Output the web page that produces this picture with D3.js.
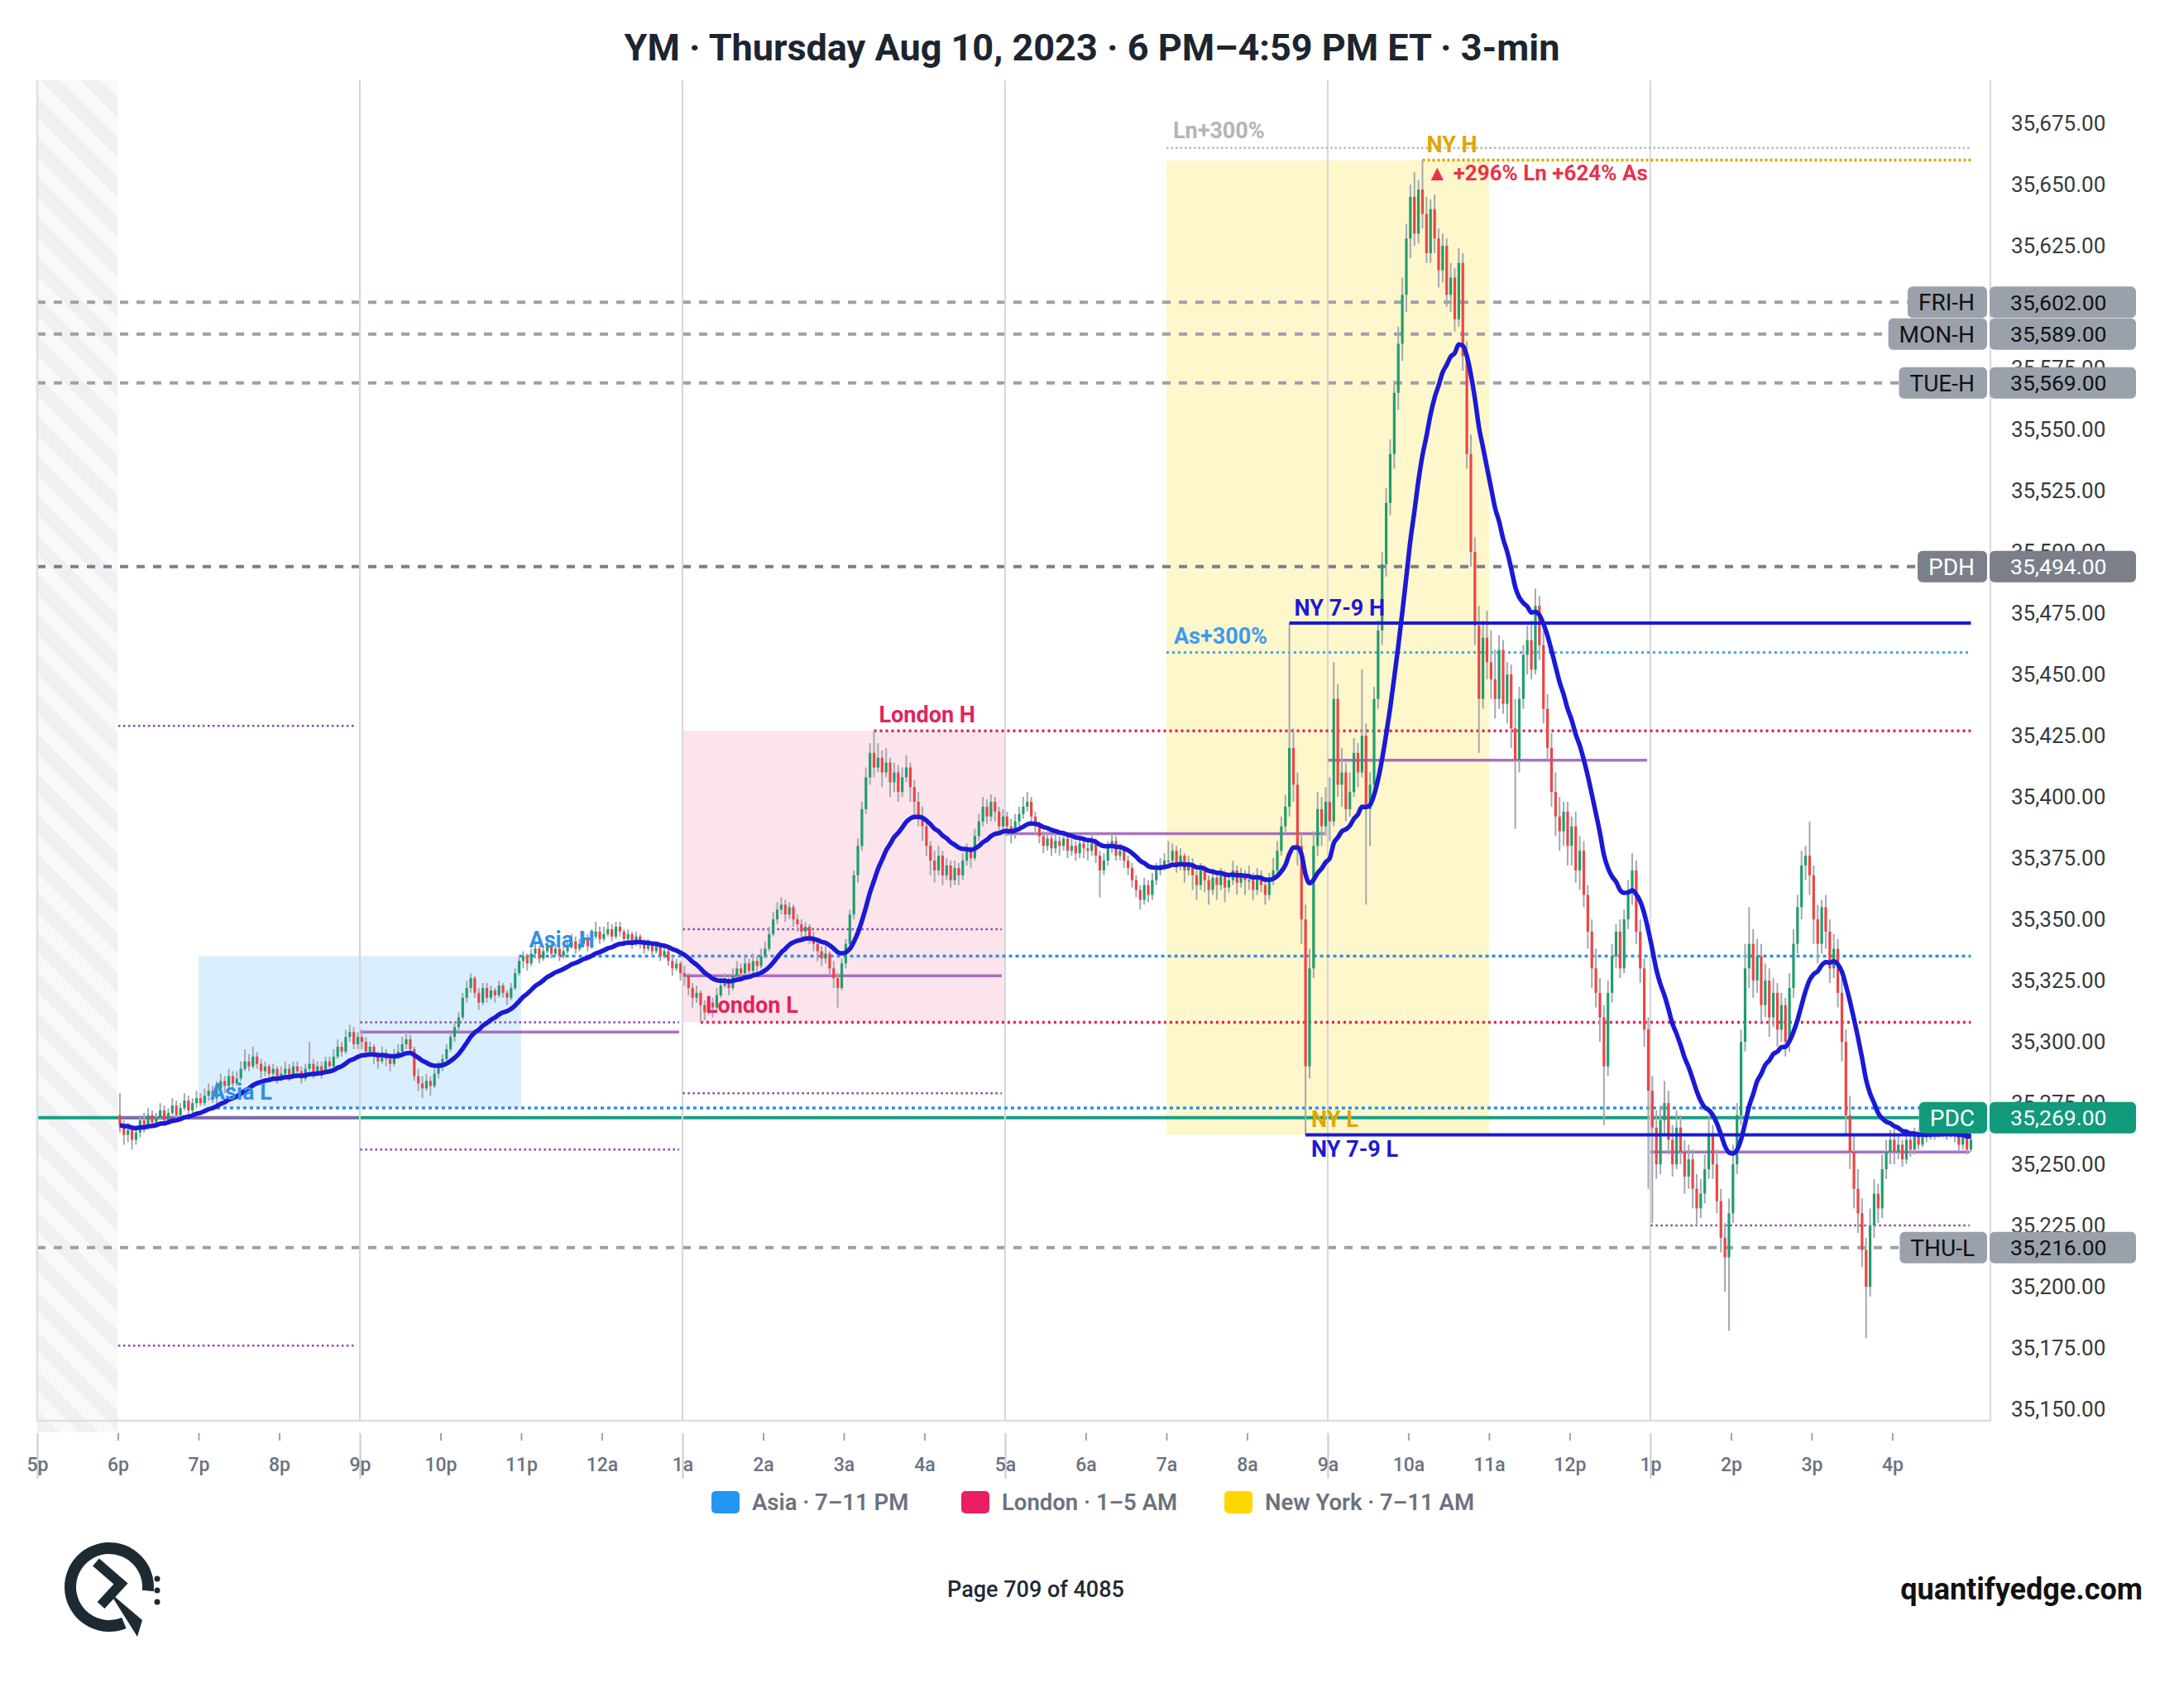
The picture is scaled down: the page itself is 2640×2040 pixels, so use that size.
<!DOCTYPE html>
<html>
<head>
<meta charset="utf-8">
<script src="https://cdn.jsdelivr.net/npm/d3@7"></script>
<style>
  body { margin: 0; background: #fff; }
  svg text { font-family: Roboto, "Noto Sans", sans-serif; }
</style>
</head>
<body>
<svg id="chart" width="2640" height="2040"></svg>
<script>
// ---- data ----
const firstBar = new Date(2023, 7, 9, 18, 0);   // 6 PM ET, 3-min bars
const barMinutes = 3;

// [open, high, low, close], one row per 3-min bar
const bars = [
  // 6p
  [35270,35279,35263,35266],[35266,35268,35258,35262],[35262,35267,35259,35264],[35264,35266,35256,35260],
  [35260,35265,35258,35263],[35263,35270,35261,35268],[35268,35271,35263,35265],[35265,35273,35264,35270],
  [35270,35272,35265,35267],[35267,35271,35265,35269],[35269,35275,35268,35272],[35272,35274,35266,35268],
  [35268,35273,35267,35271],[35271,35277,35270,35274],[35274,35276,35268,35270],[35270,35275,35269,35273],
  [35273,35279,35272,35276],[35276,35278,35270,35272],[35272,35277,35271,35275],[35275,35280,35273,35277],
  // 7p
  [35277,35279,35274,35275],[35275,35281,35274,35278],[35278,35283,35276,35280],[35280,35282,35275,35277],
  [35277,35284,35273,35281],[35281,35287,35280,35284],[35284,35286,35279,35282],[35282,35289,35281,35286],
  [35286,35288,35281,35283],[35283,35288,35282,35285],[35285,35292,35284,35289],[35289,35297,35288,35292],
  [35292,35295,35288,35290],[35290,35298,35289,35294],[35294,35296,35289,35291],[35291,35293,35285,35288],
  [35288,35292,35286,35290],[35290,35291,35284,35287],[35287,35291,35285,35289],[35289,35290,35283,35286],
  // 8p
  [35286,35290,35284,35287],[35287,35292,35285,35289],[35289,35291,35284,35286],[35286,35292,35285,35290],
  [35290,35292,35286,35288],[35288,35290,35283,35285],[35285,35291,35284,35289],[35289,35300,35288,35291],
  [35291,35293,35285,35287],[35287,35292,35286,35290],[35290,35292,35285,35288],[35288,35294,35287,35292],
  [35292,35294,35288,35290],[35290,35297,35289,35294],[35294,35301,35293,35298],[35298,35300,35294,35296],
  [35296,35305,35295,35302],[35302,35307,35300,35304],[35304,35306,35297,35299],[35299,35304,35297,35302],
  // 9p
  [35302,35305,35297,35300],[35300,35302,35294,35296],[35296,35300,35295,35298],[35298,35299,35291,35294],
  [35294,35296,35289,35292],[35292,35298,35291,35295],[35295,35297,35290,35293],[35293,35295,35288,35291],
  [35291,35297,35290,35294],[35294,35299,35293,35296],[35296,35302,35295,35299],[35299,35304,35297,35301],
  [35301,35303,35295,35297],[35297,35298,35284,35286],[35286,35289,35280,35283],[35283,35286,35277,35281],
  [35281,35287,35280,35284],[35284,35286,35278,35282],[35282,35289,35281,35287],[35287,35292,35285,35290],
  // 10p
  [35290,35295,35288,35293],[35293,35299,35292,35297],[35297,35304,35296,35302],[35302,35308,35300,35306],
  [35306,35312,35304,35310],[35310,35320,35309,35318],[35318,35325,35316,35322],[35322,35328,35320,35326],
  [35326,35327,35318,35320],[35320,35322,35313,35316],[35316,35324,35315,35322],[35322,35324,35316,35318],
  [35318,35323,35317,35321],[35321,35322,35316,35319],[35319,35325,35318,35323],[35323,35324,35318,35320],
  [35320,35321,35315,35318],[35318,35324,35317,35322],[35322,35330,35321,35328],[35328,35335,35327,35333],
  // 11p
  [35333,35337,35330,35335],[35335,35336,35329,35332],[35332,35338,35331,35336],[35336,35340,35334,35338],
  [35338,35339,35332,35334],[35334,35339,35333,35337],[35337,35342,35336,35339],[35339,35341,35334,35336],
  [35336,35340,35335,35338],[35338,35339,35333,35335],[35335,35339,35334,35337],[35337,35341,35336,35339],
  [35339,35344,35338,35341],[35341,35343,35336,35338],[35338,35342,35337,35340],[35340,35345,35339,35342],
  [35342,35344,35337,35339],[35339,35346,35338,35343],[35343,35349,35342,35345],[35345,35347,35340,35342],
  // 12a
  [35342,35347,35341,35344],[35344,35349,35343,35346],[35346,35348,35341,35343],[35343,35349,35342,35347],
  [35347,35349,35343,35345],[35345,35346,35340,35342],[35342,35346,35341,35344],[35344,35345,35338,35340],
  [35340,35345,35339,35343],[35343,35344,35338,35341],[35341,35342,35336,35338],[35338,35342,35337,35340],
  [35340,35341,35335,35337],[35337,35341,35336,35339],[35339,35340,35333,35335],[35335,35339,35334,35337],
  [35337,35338,35331,35333],[35333,35335,35327,35330],[35330,35334,35329,35332],[35332,35333,35325,35328],
  // 1a
  [35328,35331,35323,35327],[35327,35328,35319,35322],[35322,35324,35314,35318],[35318,35323,35316,35320],
  [35320,35321,35308,35315],[35315,35317,35309,35312],[35312,35319,35311,35316],[35316,35318,35310,35314],
  [35314,35322,35313,35319],[35319,35326,35318,35323],[35323,35328,35322,35325],[35325,35327,35319,35322],
  [35322,35330,35321,35327],[35327,35333,35326,35330],[35330,35332,35325,35328],[35328,35335,35327,35332],
  [35332,35334,35327,35329],[35329,35336,35328,35333],[35333,35335,35328,35331],[35331,35338,35330,35335],
  // 2a
  [35335,35341,35334,35338],[35338,35347,35337,35344],[35344,35353,35343,35350],[35350,35357,35348,35354],
  [35354,35359,35352,35356],[35356,35358,35349,35352],[35352,35357,35350,35355],[35355,35356,35347,35350],
  [35350,35352,35345,35348],[35348,35350,35342,35345],[35345,35349,35343,35347],[35347,35348,35340,35343],
  [35343,35345,35337,35340],[35340,35342,35333,35337],[35337,35339,35331,35334],[35334,35339,35332,35336],
  [35336,35337,35327,35330],[35330,35333,35322,35326],[35326,35328,35314,35322],[35322,35334,35321,35332],
  // 3a
  [35332,35342,35330,35340],[35340,35354,35338,35352],[35352,35370,35350,35368],[35368,35383,35365,35380],
  [35380,35398,35378,35395],[35395,35412,35393,35408],[35408,35422,35405,35418],[35418,35427,35408,35412],
  [35412,35422,35410,35416],[35416,35419,35404,35410],[35410,35420,35408,35414],[35414,35416,35400,35406],
  [35406,35414,35402,35410],[35410,35413,35398,35402],[35402,35412,35400,35408],[35408,35417,35406,35412],
  [35412,35414,35398,35404],[35404,35407,35392,35398],[35398,35402,35388,35392],[35392,35396,35382,35388],
  // 4a
  [35388,35390,35376,35380],[35380,35382,35368,35374],[35374,35378,35365,35370],[35370,35380,35368,35376],
  [35376,35378,35364,35368],[35368,35375,35366,35372],[35372,35374,35363,35366],[35366,35374,35364,35371],
  [35371,35373,35364,35368],[35368,35377,35366,35374],[35374,35381,35372,35378],[35378,35380,35371,35375],
  [35375,35387,35374,35384],[35384,35393,35382,35390],[35390,35400,35388,35396],[35396,35399,35389,35392],
  [35392,35401,35390,35398],[35398,35400,35390,35394],[35394,35396,35385,35388],[35388,35395,35386,35392],
  // 5a
  [35392,35394,35384,35388],[35388,35391,35381,35385],[35385,35393,35383,35390],[35390,35396,35388,35393],
  [35393,35400,35391,35396],[35396,35402,35394,35398],[35398,35400,35389,35392],[35392,35394,35385,35388],
  [35388,35390,35381,35384],[35384,35386,35377,35380],[35380,35386,35378,35383],[35383,35385,35376,35379],
  [35379,35385,35377,35382],[35382,35384,35376,35380],[35380,35386,35378,35383],[35383,35384,35375,35378],
  [35378,35383,35376,35380],[35380,35382,35374,35377],[35377,35384,35375,35381],[35381,35383,35375,35379],
  // 6a
  [35379,35383,35374,35378],[35378,35385,35376,35381],[35381,35383,35373,35376],[35376,35378,35359,35370],
  [35370,35377,35368,35374],[35374,35382,35372,35379],[35379,35385,35377,35382],[35382,35384,35374,35376],
  [35376,35381,35374,35378],[35378,35380,35371,35374],[35374,35376,35368,35371],[35371,35373,35363,35366],
  [35366,35368,35359,35362],[35362,35364,35354,35358],[35358,35367,35356,35364],[35364,35366,35357,35360],
  [35360,35369,35358,35366],[35366,35373,35364,35370],[35370,35375,35368,35372],[35372,35377,35370,35374],
  // 7a
  [35374,35382,35372,35374],[35374,35381,35372,35378],[35378,35380,35369,35372],[35372,35379,35370,35376],
  [35376,35377,35365,35370],[35370,35376,35368,35373],[35373,35375,35362,35368],[35368,35370,35358,35364],
  [35364,35373,35362,35370],[35370,35372,35361,35366],[35366,35368,35356,35362],[35362,35370,35360,35367],
  [35367,35369,35358,35364],[35364,35371,35362,35368],[35368,35370,35357,35363],[35363,35369,35361,35366],
  [35366,35374,35364,35370],[35370,35372,35360,35365],[35365,35371,35363,35368],[35368,35370,35360,35366],
  // 8a
  [35366,35372,35362,35366],[35366,35369,35358,35362],[35362,35371,35360,35368],[35368,35370,35361,35364],
  [35364,35367,35356,35360],[35360,35369,35358,35366],[35366,35375,35364,35370],[35370,35382,35368,35378],
  [35378,35392,35376,35388],[35388,35401,35385,35396],[35396,35471,35392,35420],[35420,35428,35398,35405],
  [35405,35410,35372,35380],[35380,35385,35340,35350],[35350,35356,35262,35290],[35290,35338,35285,35330],
  [35330,35386,35326,35380],[35380,35402,35376,35395],[35395,35400,35380,35388],[35388,35404,35384,35398],
  // 9a
  [35398,35408,35382,35390],[35390,35455,35388,35440],[35440,35446,35400,35405],[35405,35420,35396,35410],
  [35410,35414,35390,35395],[35395,35410,35392,35402],[35402,35424,35400,35418],[35418,35422,35404,35410],
  [35410,35452,35408,35425],[35425,35430,35356,35395],[35395,35410,35380,35405],[35405,35445,35402,35440],
  [35440,35472,35436,35468],[35468,35500,35462,35495],[35495,35526,35490,35520],[35520,35546,35515,35540],
  [35540,35570,35534,35565],[35565,35592,35558,35585],[35585,35612,35578,35605],[35605,35634,35598,35628],
  // 10a
  [35628,35650,35620,35645],[35645,35655,35625,35630],[35630,35652,35626,35648],[35648,35660,35632,35638],
  [35638,35645,35618,35622],[35622,35644,35618,35640],[35640,35646,35622,35628],[35628,35632,35608,35615],
  [35615,35630,35610,35625],[35625,35628,35600,35605],[35605,35618,35598,35612],[35612,35616,35590,35595],
  [35595,35624,35592,35618],[35618,35622,35574,35580],[35580,35586,35534,35540],[35540,35548,35494,35500],
  [35500,35506,35462,35470],[35470,35478,35418,35440],[35440,35472,35436,35465],[35465,35476,35448,35455],
  // 11a
  [35455,35468,35440,35448],[35448,35460,35432,35440],[35440,35466,35436,35460],[35460,35464,35434,35438],
  [35438,35455,35430,35450],[35450,35454,35420,35428],[35428,35440,35387,35415],[35415,35445,35410,35440],
  [35440,35462,35436,35458],[35458,35470,35450,35464],[35464,35472,35448,35452],[35452,35485,35450,35478],
  [35478,35482,35456,35462],[35462,35468,35430,35436],[35436,35442,35415,35420],[35420,35426,35396,35402],
  [35402,35410,35384,35392],[35392,35400,35378,35386],[35386,35398,35380,35394],[35394,35398,35372,35380],
  // 12p
  [35380,35392,35372,35388],[35388,35394,35365,35370],[35370,35384,35362,35378],[35378,35382,35355,35360],
  [35360,35364,35338,35345],[35345,35350,35322,35330],[35330,35338,35314,35320],[35320,35326,35300,35310],
  [35310,35315,35266,35290],[35290,35325,35286,35320],[35320,35340,35316,35335],[35335,35348,35330,35345],
  [35345,35350,35326,35330],[35330,35354,35328,35350],[35350,35366,35346,35362],[35362,35377,35356,35370],
  [35370,35374,35340,35345],[35345,35350,35324,35330],[35330,35334,35298,35305],[35305,35310,35240,35280],
  // 1p
  [35280,35286,35226,35265],[35265,35272,35244,35250],[35250,35274,35246,35268],[35268,35284,35262,35275],
  [35275,35280,35254,35260],[35260,35266,35245,35250],[35250,35272,35248,35265],[35265,35270,35250,35255],
  [35255,35260,35238,35245],[35245,35258,35240,35252],[35252,35256,35232,35240],[35240,35246,35225,35232],
  [35232,35244,35228,35238],[35238,35254,35234,35248],[35248,35270,35244,35262],[35262,35266,35244,35250],
  [35250,35256,35230,35235],[35235,35240,35214,35220],[35220,35226,35198,35212],[35212,35236,35182,35230],
  // 2p
  [35230,35258,35226,35250],[35250,35275,35246,35270],[35270,35305,35266,35300],[35300,35340,35296,35330],
  [35330,35355,35322,35340],[35340,35346,35318,35325],[35325,35342,35320,35335],[35335,35340,35308,35315],
  [35315,35332,35310,35325],[35325,35330,35302,35310],[35310,35326,35306,35320],[35320,35324,35298,35305],
  [35305,35320,35300,35315],[35315,35318,35294,35300],[35300,35328,35296,35322],[35322,35346,35318,35340],
  [35340,35360,35336,35355],[35355,35378,35350,35372],[35372,35380,35366,35376],[35376,35390,35360,35368],
  // 3p
  [35368,35372,35340,35350],[35350,35356,35332,35340],[35340,35358,35336,35355],[35355,35360,35338,35345],
  [35345,35350,35324,35330],[35330,35344,35326,35338],[35338,35342,35314,35320],[35320,35326,35292,35300],
  [35300,35305,35262,35270],[35270,35278,35248,35255],[35255,35262,35232,35240],[35240,35248,35222,35230],
  [35230,35236,35208,35215],[35215,35220,35179,35200],[35200,35232,35196,35225],[35225,35244,35220,35238],
  [35238,35242,35226,35232],[35232,35254,35228,35248],[35248,35260,35244,35255],[35255,35264,35250,35260],
  // 4p
  [35260,35266,35250,35255],[35255,35262,35252,35258],[35258,35260,35249,35252],[35252,35264,35250,35260],
  [35260,35262,35253,35256],[35256,35265,35254,35262],[35262,35264,35256,35258],[35258,35265,35257,35263],
  [35263,35265,35259,35261],[35261,35266,35260,35264],[35264,35266,35260,35262],[35262,35265,35261,35263],
  [35263,35266,35261,35264],[35264,35265,35260,35262],[35262,35265,35261,35263],[35263,35264,35259,35262],
  [35262,35263,35255,35258],[35258,35264,35256,35262],[35262,35263,35254,35256],[35256,35262,35255,35260]
];

// prior-day levels shown with badges on the price scale
const dayLevelNames = ['FRI-H', 'MON-H', 'TUE-H', 'PDH', 'THU-L'];
const dayLevelValues = [35602, 35589, 35569, 35494, 35216];
const pdcValue = 35269;

// sessions
const sessionNames = ['Asia', 'London', 'New York'];
const sessionLegend = ['Asia · 7–11 PM', 'London · 1–5 AM', 'New York · 7–11 AM'];
const sessionStart = [new Date(2023,7,9,19), new Date(2023,7,10,1), new Date(2023,7,10,7)];
const sessionEnd   = [new Date(2023,7,9,23), new Date(2023,7,10,5), new Date(2023,7,10,11)];
const sessionHigh = [35335, 35427, 35660];
const sessionLow  = [35273, 35308, 35262];
// bars where the session high / low printed (lines start there)
const highBarTime = [new Date(2023,7,9,22,57), new Date(2023,7,10,3,21), new Date(2023,7,10,10,9)];
const lowBarTime  = [new Date(2023,7,9,19,12), new Date(2023,7,10,1,12), new Date(2023,7,10,8,42)];

// NY 7-9 opening range
const ny79High = 35471, ny79Low = 35262;
const ny79HighTime = new Date(2023,7,10,8,30), ny79LowTime = new Date(2023,7,10,8,42);

// 4-hour block reference lines (purple)
const blockFrom = [new Date(2023,7,9,18), new Date(2023,7,9,21), new Date(2023,7,10,1), new Date(2023,7,10,5), new Date(2023,7,10,9), new Date(2023,7,10,13)];
const blockTo   = [new Date(2023,7,9,21), new Date(2023,7,10,1), new Date(2023,7,10,5), new Date(2023,7,10,9), new Date(2023,7,10,13), new Date(2023,7,10,17)];
const blockSolid = [35269, 35304, 35327, 35385, 35415, 35255];
const blockDotted = [[35429, 35176], [35308, 35256], [35346, 35279], [], [], [35225]];

const yTicks = d3.range(35150, 35676, 25);

// ---- layout ----
const W = 2640;
const plot = {left: 45, right: 2406, top: 97, bottom: 1717};

const svg = d3.select('#chart');

const x = d3.scaleTime()
    .domain([new Date(2023,7,9,17,0), new Date(2023,7,10,17,13)])
    .range([plot.left, plot.right]);
const y = d3.scaleLinear()
    .domain([35145.3, 35692.6])
    .range([plot.bottom, plot.top]);

const barTime = i => new Date(+firstBar + i * barMinutes * 60000);
const barX = i => x(new Date(+barTime(i) + 1.5 * 60000));
const lastX = barX(bars.length - 1);
const tx = t => x(new Date(+t + 1.5 * 60000));

const colors = {
  asia: '#2f8fe8', london: '#e0245e', ny: '#e2a500', nyBlue: '#1a1ad6',
  up: '#1f9e6e', down: '#ef4444', wick: '#a3a8b0', purple: '#9b59b6'
};
const boxFill = ['rgba(33,150,243,0.16)', 'rgba(233,30,99,0.12)', 'rgba(255,214,0,0.2)'];
const legendFill = ['#2196f3', '#e91e63', '#ffd600'];

// title
svg.append('text')
    .attr('x', W / 2).attr('y', 73)
    .attr('text-anchor', 'middle')
    .attr('font-size', 45).attr('font-weight', 700).attr('fill', '#1c2530')
    .text('YM · Thursday Aug 10, 2023 · 6 PM–4:59 PM ET · 3-min');

// hatched no-data zone 5p-6p
const defs = svg.append('defs');
const pat = defs.append('pattern').attr('id', 'hatch')
    .attr('patternUnits', 'userSpaceOnUse').attr('width', 34).attr('height', 34)
    .attr('patternTransform', 'rotate(-45)');
pat.append('rect').attr('width', 34).attr('height', 34).attr('fill', '#f9f9fa');
pat.append('rect').attr('width', 17).attr('height', 34).attr('fill', '#f0f0f2');
svg.append('rect')
    .attr('x', plot.left).attr('y', plot.top)
    .attr('width', x(firstBar) - plot.left).attr('height', plot.bottom + 14 - plot.top)
    .attr('fill', 'url(#hatch)');

// session boxes
sessionNames.forEach((s, i) => {
  svg.append('rect')
      .attr('x', x(sessionStart[i])).attr('y', y(sessionHigh[i]))
      .attr('width', x(sessionEnd[i]) - x(sessionStart[i]))
      .attr('height', y(sessionLow[i]) - y(sessionHigh[i]))
      .attr('fill', boxFill[i]);
});

// hourly ticks / 4h grid
const hours = d3.timeHour.range(new Date(2023,7,9,17), new Date(2023,7,10,17));
const hourFmt = d => (d.getHours() % 12 || 12) + (d.getHours() < 12 ? 'a' : 'p');
const isMajor = d => d.getHours() % 4 === 1;

svg.append('g').selectAll('line')
    .data(hours.filter(isMajor))
    .enter().append('line')
    .attr('x1', d => x(d)).attr('x2', d => x(d))
    .attr('y1', plot.top).attr('y2', plot.bottom)
    .attr('stroke', '#d6d6d9').attr('stroke-width', 2);

const xAxis = svg.append('g')
    .attr('transform', `translate(0,${plot.bottom + 15})`)
    .call(d3.axisBottom(x).tickValues(hours).tickFormat(hourFmt).tickSize(9).tickPadding(21));
xAxis.select('.domain').remove();
xAxis.selectAll('.tick line').attr('stroke', '#9ca3af').attr('stroke-width', 2)
    .filter(d => isMajor(d)).attr('y2', 55).attr('stroke', '#c8cbd0');
xAxis.selectAll('.tick text')
    .attr('font-size', 23).attr('font-weight', 500).attr('fill', '#6b7280')
    .attr('font-family', 'Roboto, sans-serif');

// plot border
svg.append('path')
    .attr('d', `M${plot.left},${plot.top}V${plot.bottom}H${plot.right}V${plot.top}`)
    .attr('fill', 'none').attr('stroke', '#dcdfe4').attr('stroke-width', 2.5);

// y tick labels (under the badges); drop the ones a badge covers completely
const badgeValues = dayLevelValues.concat([pdcValue]);
const yTickShown = yTicks.filter(v => badgeValues.every(b => Math.abs(y(v) - y(b)) > 10));
const yAxis = svg.append('g')
    .attr('transform', `translate(${plot.right},0)`)
    .call(d3.axisRight(y).tickValues(yTickShown).tickFormat(d3.format(',.2f')).tickSize(0).tickPadding(25));
yAxis.select('.domain').remove();
yAxis.selectAll('.tick text')
    .attr('font-size', 26).attr('fill', '#333a40').attr('font-family', 'Roboto, sans-serif');

// purple block lines
blockSolid.forEach((v, i) => {
  const x1 = tx(blockFrom[i]) - 2, x2 = x(blockTo[i]) - 4;
  svg.append('line').attr('x1', x1).attr('x2', x2).attr('y1', y(v)).attr('y2', y(v))
      .attr('stroke', colors.purple).attr('stroke-opacity', 0.85).attr('stroke-width', 3.5);
  blockDotted[i].forEach(dv => {
    svg.append('line').attr('x1', x1).attr('x2', x2).attr('y1', y(dv)).attr('y2', y(dv))
        .attr('stroke', '#8e44ad').attr('stroke-width', 2.5).attr('stroke-dasharray', '2.5,3.5');
  });
});

// session high/low lines
const hline = (v, x1, color, width, dash) =>
  svg.append('line').attr('x1', x1).attr('x2', lastX).attr('y1', y(v)).attr('y2', y(v))
      .attr('stroke', color).attr('stroke-width', width).attr('stroke-dasharray', dash);

hline(sessionHigh[0], tx(highBarTime[0]), colors.asia, 3.5, '4,4');
hline(sessionLow[0], tx(lowBarTime[0]), colors.asia, 3.5, '4,4');
hline(sessionHigh[1], tx(highBarTime[1]), colors.london, 3.5, '3,4');
hline(sessionLow[1], tx(lowBarTime[1]), colors.london, 3.5, '3,4');
hline(sessionHigh[2], tx(highBarTime[2]), colors.ny, 3.5, '3,3');

// range extensions (+300%)
const lnExt = sessionLow[1] + 3 * (sessionHigh[1] - sessionLow[1]);
const asExt = sessionLow[0] + 3 * (sessionHigh[0] - sessionLow[0]);
hline(lnExt, x(sessionStart[2]), '#b8b8bc', 2.5, '2.5,3');
hline(asExt, x(sessionStart[2]), '#42a5f5', 3, '3,4');

// candles
const cg = svg.append('g');
bars.forEach((b, i) => {
  const cx = barX(i);
  cg.append('line').attr('x1', cx).attr('x2', cx).attr('y1', y(b[1])).attr('y2', y(b[2]))
      .attr('stroke', colors.wick).attr('stroke-width', 2);
  const top = y(Math.max(b[0], b[3])), bot = y(Math.min(b[0], b[3]));
  cg.append('rect').attr('x', cx - 1.6).attr('y', top)
      .attr('width', 3.2).attr('height', Math.max(1.5, bot - top))
      .attr('fill', b[3] >= b[0] ? colors.up : colors.down);
});

// NY 7-9 range lines
hline(ny79High, tx(ny79HighTime), colors.nyBlue, 4, null);
hline(ny79Low, tx(ny79LowTime), colors.nyBlue, 4, null);

// moving average (EMA 20 of closes)
const alpha = 2 / 21;
const ema = [];
bars.forEach((b, i) => ema.push(i ? ema[i - 1] + alpha * (b[3] - ema[i - 1]) : b[3]));
svg.append('path')
    .datum(ema)
    .attr('d', d3.line().x((d, i) => barX(i)).y(d => y(d)).curve(d3.curveMonotoneX))
    .attr('fill', 'none').attr('stroke', colors.nyBlue).attr('stroke-width', 5.5)
    .attr('stroke-linejoin', 'round');

// labels
const label = (txt, x0, v, dy, color, size) =>
  svg.append('text').attr('x', x0).attr('y', y(v) + dy)
      .attr('font-size', size || 27).attr('font-weight', 700).attr('fill', color).text(txt);

label('Asia H', tx(highBarTime[0]) + 12, sessionHigh[0], -10, colors.asia);
label('Asia L', tx(lowBarTime[0]) - 8, sessionLow[0], -10, colors.asia);
label('London H', tx(highBarTime[1]) + 6, sessionHigh[1], -10, colors.london);
label('London L', tx(lowBarTime[1]) + 6, sessionLow[1], -11, colors.london);
label('Ln+300%', x(sessionStart[2]) + 8, lnExt, -12, '#b4b4b8');
label('NY H', tx(highBarTime[2]) + 5, sessionHigh[2], -9, colors.ny);
label('▲ +296% Ln +624% As', tx(highBarTime[2]) + 5, sessionHigh[2], 25, '#e8334a', 26);
label('As+300%', x(sessionStart[2]) + 9, asExt, -10, '#3d9be9');
label('NY 7-9 H', tx(ny79HighTime) + 6, ny79High, -9, colors.nyBlue);
label('NY L', tx(ny79LowTime) + 7, sessionLow[2], -10, colors.ny);
label('NY 7-9 L', tx(ny79LowTime) + 7, ny79Low, 26, colors.nyBlue);

// badges on the price scale
function badge(name, value, fill, textFill, lineColor, solid) {
  const cy = y(value);
  const g = svg.append('g');
  const t = g.append('text').attr('x', 2387).attr('y', cy).attr('dy', '0.36em')
      .attr('text-anchor', 'end').attr('font-size', 28).attr('fill', textFill).text(name);
  const left = 2387 - t.node().getComputedTextLength() - 13;
  g.insert('rect', 'text').attr('x', left).attr('y', cy - 19)
      .attr('width', plot.right - 4 - left).attr('height', 38).attr('rx', 6).attr('fill', fill);
  g.append('rect').attr('x', plot.right - 1).attr('y', cy - 19)
      .attr('width', 177).attr('height', 38).attr('rx', 6).attr('fill', fill);
  g.append('text').attr('x', 2430).attr('y', cy).attr('dy', '0.36em')
      .attr('font-size', 26.5).attr('fill', textFill).text(d3.format(',.2f')(value));
  svg.insert('line', 'g')
      .attr('x1', plot.left).attr('x2', left).attr('y1', cy).attr('y2', cy)
      .attr('stroke', lineColor).attr('stroke-width', 4)
      .attr('stroke-dasharray', solid ? null : '10,10');
}

dayLevelNames.forEach((n, i) => {
  const dark = n === 'PDH';
  badge(n, dayLevelValues[i], dark ? '#7b7f8a' : '#9ba1ab', dark ? '#fff' : '#111',
        dark ? '#7b7f8a' : '#9ba1ab', false);
});
badge('PDC', pdcValue, '#119a7b', '#fff', '#16a085', true);

// legend
const lx = [860, 1162, 1480];
sessionLegend.forEach((s, i) => {
  svg.append('rect').attr('x', lx[i]).attr('y', 1802).attr('width', 34).attr('height', 27)
      .attr('rx', 5).attr('fill', legendFill[i]);
  svg.append('text').attr('x', lx[i] + 49).attr('y', 1815).attr('dy', '0.36em')
      .attr('font-size', 27.5).attr('font-weight', 600).attr('fill', '#6b7280').text(s);
});

// footer
svg.append('text').attr('x', 1252).attr('y', 1930).attr('text-anchor', 'middle')
    .attr('font-size', 27).attr('font-weight', 500).attr('fill', '#1f2937').text('Page 709 of 4085');
svg.append('text').attr('x', 2590).attr('y', 1933).attr('text-anchor', 'end')
    .attr('font-size', 36).attr('font-weight', 700).attr('fill', '#111').text('quantifyedge.com');

// logo
const logo = svg.append('g').attr('transform', 'translate(132,1918)');
logo.append('path')
    .attr('d', d3.arc().innerRadius(40).outerRadius(54).startAngle(2.75).endAngle(2.75 + 5.2)())
    .attr('fill', '#1e2a32');
logo.append('path').attr('d', 'M-16,-30 L14,-4 L-10,22')
    .attr('fill', 'none').attr('stroke', '#1e2a32').attr('stroke-width', 12).attr('stroke-linejoin', 'miter');
logo.append('path').attr('d', 'M0,6 L34,60 L40,40 Z').attr('fill', '#1e2a32');
[-10, 4, 18].forEach(d => logo.append('circle').attr('cx', 58).attr('cy', d).attr('r', 3.5).attr('fill', '#1e2a32'));
</script>
</body>
</html>
